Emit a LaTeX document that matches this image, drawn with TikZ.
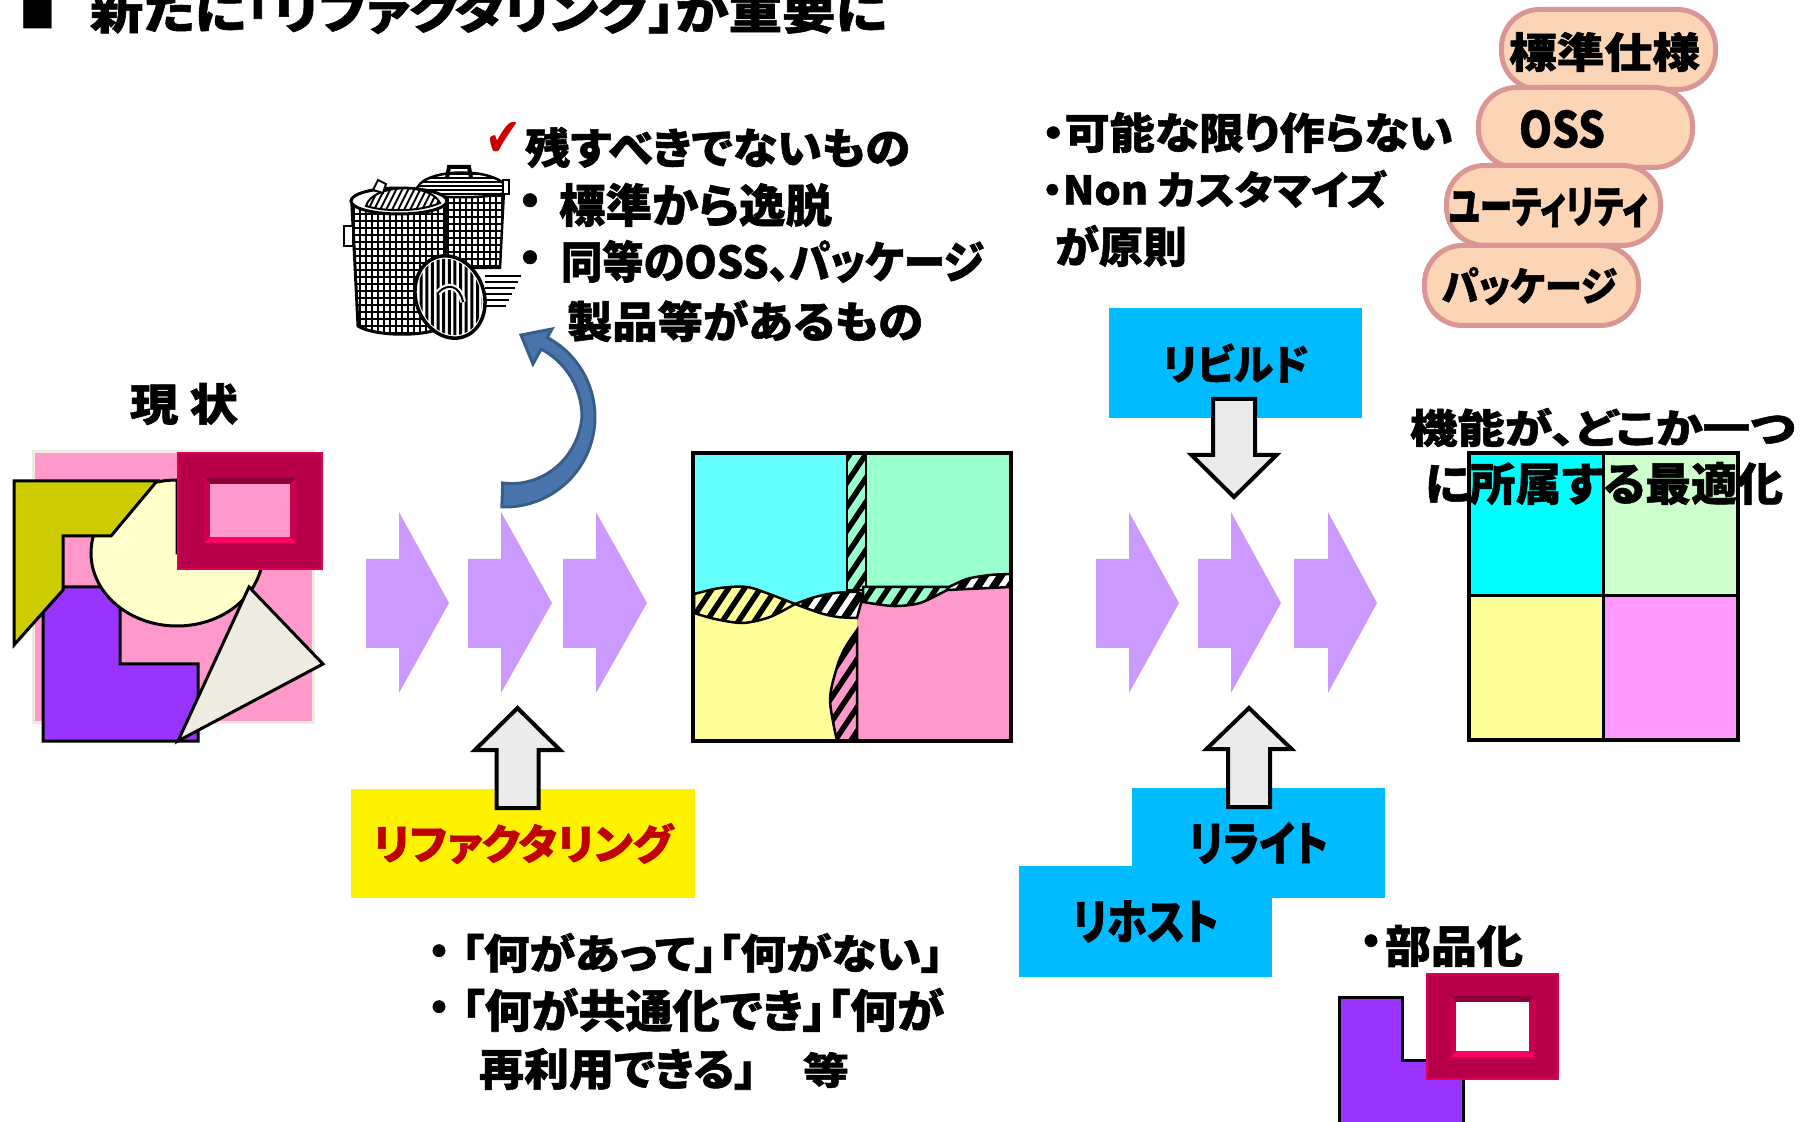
\documentclass[tikz,border=0pt]{standalone}
\usepackage{fontspec}
\usepackage{graphicx}
\newfontfamily\jp{Noto Sans CJK JP}[RawFeature=+palt, BoldFeatures={FakeBold=1.2}]
\newfontfamily\sym{DejaVu Sans}
\newdimen\pxu \pxu=0.1mm

\definecolor{pinkbg}{HTML}{FF99CC}
\definecolor{beige}{HTML}{EEECE1}
\definecolor{olive}{HTML}{CCCC00}
\definecolor{ltyellow}{HTML}{FFFFCC}
\definecolor{purp}{HTML}{9933FF}
\definecolor{frameRed}{HTML}{B8004A}
\definecolor{frameDark}{HTML}{8C0038}
\definecolor{frameLight}{HTML}{FF0066}
\definecolor{frameSide}{HTML}{C8004F}
\definecolor{arrowpurple}{HTML}{CC99FF}
\definecolor{cyanM}{HTML}{66FFFF}
\definecolor{mintM}{HTML}{99FFCC}
\definecolor{yellowM}{HTML}{FFFF99}
\definecolor{pinkM}{HTML}{FF99CC}
\definecolor{cyanF}{HTML}{00FFFF}
\definecolor{mintF}{HTML}{CCFFCC}
\definecolor{yellowF}{HTML}{FFFF99}
\definecolor{pinkF}{HTML}{FF99FF}
\definecolor{skyblue}{HTML}{00BBFF}
\definecolor{peach}{HTML}{FBD5B5}
\definecolor{rose}{HTML}{D99694}
\definecolor{refred}{HTML}{C00000}
\definecolor{checkred}{HTML}{CC0000}
\definecolor{curveblue}{HTML}{4A74AC}
\definecolor{curvedark}{HTML}{385D8A}
\definecolor{arrowgray}{HTML}{EBEBEB}

% text squeezed into a given ink box (width, total height in px)
\newcommand\fitt[3]{\resizebox*{#1\pxu}{#2\pxu}{\jp\bfseries #3}}
% text node filling the box x1,y1 -- x2,y2
\newcommand\tbox[7][black]{%
  \pgfmathsetmacro\tbw{#5-#3}%
  \pgfmathsetmacro\tbh{#6-#4}%
  \node[inner sep=0pt,text=#1] (#2) at ({(#3+#5)/2},{(#4+#6)/2}) {\fitt{\tbw}{\tbh}{#7}};}
% bullet dot (zero width, so it never crowds its line)
\newcommand\dotb[4]{\node[inner sep=0pt] (#1) at (#2,#3) {\makebox[0pt]{\jp\bfseries\fontsize{#4\pxu}{#4\pxu}\selectfont ・}};}
% purple chevron arrow: body left, body right, tip
\newcommand\parrow[3]{\fill[arrowpurple] (#1,559) -- (#2,559) -- (#2,512) -- (#3,603) -- (#2,693) -- (#2,648) -- (#1,648) -- cycle;}
% grey block arrow: centre x, tip y, head base y, tail y
\newcommand\blockarrow[4]{\draw[blockarrow] (#1,#2) -- ({#1+42.5},#3) -- ({#1+21},#3) -- ({#1+21},#4) -- ({#1-21},#4) -- ({#1-21},#3) -- ({#1-42.5},#3) -- cycle;}
% bevelled frame: outer box, inner box, inner colour
\newcommand\bevelframe[9]{%
  \fill[frameRed] (#1,#2) rectangle (#3,#4);
  \draw[frameLight!50!frameRed, lw=2] (#1,#2) rectangle (#3,#4);
  \fill[frameDark] ({#5-6},{#6-6}) -- ({#7+6},{#6-6}) -- (#7,#6) -- (#5,#6) -- cycle;
  \fill[frameLight] ({#5-6},{#8+6}) -- ({#7+6},{#8+6}) -- (#7,#8) -- (#5,#8) -- cycle;
  \fill[frameSide] ({#5-6},{#6-6}) -- (#5,#6) -- (#5,#8) -- ({#5-6},{#8+6}) -- cycle;
  \fill[frameSide] ({#7+6},{#6-6}) -- (#7,#6) -- (#7,#8) -- ({#7+6},{#8+6}) -- cycle;
  \fill[#9] (#5,#6) rectangle (#7,#8);}
% diagonal stripes for the clipped region
\newcommand\hatch[1]{\foreach \i in {470,486,...,1030} \draw[line width=5.5\pxu,#1] (\i,760) -- ++(210,-315);}

\tikzset{
  lw/.style={line width=#1\pxu},
  bubble/.style={draw=rose, fill=peach, line width=5\pxu, rounded corners=38\pxu,
    inner sep=0pt, minimum width=214\pxu, minimum height=80\pxu},
  labelbox/.style={fill=#1, inner sep=0pt},
  blockarrow/.style={fill=arrowgray, draw=black, line width=4\pxu},
}

\begin{document}
\begin{tikzpicture}[x=0.1mm,y=-0.1mm]
\path[use as bounding box] (0,0) rectangle (1807,1122);
\clip (0,0) rectangle (1807,1122);
\fill[white] (0,0) rectangle (1807,1122);

% ---------- heading ----------
\tbox{sq}{20}{-6}{55}{28}{■}
\tbox{title}{90}{-12}{887}{34}{新たに「リファクタリング」が重要に}

% ---------- current state ----------
\tbox{genjo}{130}{383}{238}{425}{現 状}
\fill[pinkbg, draw=beige, lw=3] (33,452) rectangle (313,722);
\filldraw[fill=purp, lw=3] (43,741) -- (43,610) -- (63,587) -- (120,587) -- (120,664) -- (198,664) -- (198,741) -- cycle;
\filldraw[fill=ltyellow, lw=3] (177,553) -- (177,480) arc[start angle=270, end angle=0, x radius=86, y radius=73] -- cycle;
\filldraw[fill=olive, lw=3] (14,481) -- (157,481) -- (111,536) -- (63,536) -- (63,590) -- (14,645) -- cycle;
\bevelframe{178}{453}{322}{569}{210}{484}{290}{537}{pinkbg}
\filldraw[fill=beige, lw=3] (249,587) -- (323,664) -- (178,741) -- cycle;

% ---------- flow arrows ----------
\parrow{366}{399}{449}
\parrow{468}{501}{552}
\parrow{563}{596}{647}
\parrow{1096}{1129}{1179}
\parrow{1198}{1231}{1281}
\parrow{1294}{1328}{1377}

% ---------- discarded items ----------
% back can
\filldraw[fill=white, lw=2.5] (422,190) -- (426,268) -- (500,268) -- (504,190) -- cycle;
\begin{scope}
  \clip (422,190) -- (426,268) -- (500,268) -- (504,190) -- cycle;
  \foreach \i in {424,430,...,504} \draw[lw=1.8] (\i,188) -- (\i,270);
  \foreach \j in {196,203,...,268} \draw[lw=2.8] (420,\j) -- (506,\j);
\end{scope}
\filldraw[fill=white, lw=2.5] (416,192) .. controls (418,166) and (506,166) .. (508,192) .. controls (490,199) and (434,199) .. (416,192) -- cycle;
\begin{scope}
  \clip (416,192) .. controls (418,166) and (506,166) .. (508,192) .. controls (490,199) and (434,199) .. (416,192) -- cycle;
  \foreach \j in {174,178,...,198} \draw[lw=2] (410,\j) -- (510,\j);
\end{scope}
\draw[lw=4] (447,178) -- (449,167) -- (469,167) -- (471,178);
\filldraw[fill=white, lw=2] (503,180) rectangle (509,194);
% front can
\filldraw[fill=white, lw=3] (352,206) -- (358,326) .. controls (375,337) and (430,337) .. (444,326) -- (446,206) -- cycle;
\begin{scope}
  \clip (352,206) -- (358,326) .. controls (375,337) and (430,337) .. (444,326) -- (446,206) -- cycle;
  \foreach \i in {354,360,...,446} \draw[lw=1.8] (\i,200) -- (\i,340);
  \foreach \j in {214,221,...,334} \draw[lw=2.8] (350,\j) -- (450,\j);
\end{scope}
\filldraw[fill=white, lw=2.5] (344,226) rectangle (353,246);
\filldraw[fill=white, lw=3] (399,201) ellipse [x radius=48, y radius=13];
\filldraw[fill=white, lw=2] (366,206) .. controls (372,184) and (430,182) .. (440,203) .. controls (420,212) and (385,212) .. (366,206) -- cycle;
\begin{scope}
  \clip (366,206) .. controls (372,184) and (430,182) .. (440,203) .. controls (420,212) and (385,212) .. (366,206) -- cycle;
  \foreach \i in {360,366,...,446} \draw[lw=2] (\i,214) -- ++(14,-28);
\end{scope}
\filldraw[fill=white, lw=2] (373,190) -- (378,180) -- (386,184) -- (383,193) -- cycle;
% leaning lid
\begin{scope}[rotate around={20:(450,297)}]
  \filldraw[fill=white, lw=3.5] (450,297) ellipse [x radius=34, y radius=42];
  \clip (450,297) ellipse [x radius=31, y radius=39];
  \foreach \i in {400,406,...,500} \draw[lw=3] (\i,350) -- ++(40,-110);
\end{scope}
\draw[white, lw=6] (438,293) .. controls (448,282) and (460,286) .. (463,302);
\draw[lw=2] (438,293) .. controls (448,282) and (460,286) .. (463,302);
\foreach \j in {276,282,...,306} \draw[lw=2.5] (485,\j) -- ({521-(\j-276)*0.5},\j);

% curved arrow towards the bin
\filldraw[fill=curveblue, draw=curvedark, lw=3]
  plot[domain=-92:62, samples=50] ({505+90*cos(\x)},{417-90*sin(\x)})
  -- (552,329) -- (521,335) -- (533,364)
  -- plot[domain=62:0, samples=20] ({505+77*cos(\x)},{417-77*sin(\x)})
  -- plot[domain=0:-92, samples=30] ({505+(77+11*\x/92)*cos(\x)},{417-(77+11*\x/92)*sin(\x)})
  -- cycle;

\tbox[checkred]{chk}{485}{123}{521}{157}{\sym ✔}
\tbox{n1}{525}{127}{910}{168}{残すべきでないもの}
\dotb{d3}{530}{206}{48}
\tbox{n2}{559}{183}{832}{227}{標準から逸脱}
\dotb{d4}{530}{263}{48}
\tbox{n3}{561}{240}{984}{283}{同等のOSS、パッケージ}
\tbox{n4}{567}{300}{923}{342}{製品等があるもの}

% ---------- tangled system ----------
\def\lensA{plot[smooth] coordinates {(694,594) (720,588) (747,587) (772,595) (795,604)} -- plot[smooth] coordinates {(795,604) (770,617) (743,623) (715,619) (694,613)} -- cycle}
\def\lensB{plot[smooth] coordinates {(795,604) (815,597) (835,593) (857,592) (863,596)} -- (857,618) -- plot[smooth] coordinates {(857,618) (838,617) (820,613) (795,604)} -- cycle}
\def\bandC{(863,587) -- (947,587) -- (947,590) -- plot[smooth] coordinates {(947,590) (920,603) (893,606) (863,602)} -- cycle}
\def\lensD{plot[smooth] coordinates {(947,588) (967,579) (990,575) (1011,574)} -- (1011,587) -- (947,590) -- cycle}
\def\strip{(847,453) rectangle (866,590)}
\def\sliver{plot[smooth] coordinates {(857,630) (845,648) (837,667) (830,700) (837,741)} -- (857,741) -- cycle}

\fill[cyanM] (693,453) rectangle (857,625);
\fill[mintM] (857,453) rectangle (1011,610);
\fill[yellowM] plot[smooth] coordinates {(694,613) (715,619) (743,623) (770,617) (795,604) (820,613) (857,618)} -- (857,741) -- (693,741) -- cycle;
\fill[pinkM] (857,741) -- (857,618) -- (863,602) -- plot[smooth] coordinates {(863,602) (893,606) (920,603) (947,590)} -- (1011,587) -- (1011,741) -- cycle;

\fill[mintM] \strip;
\begin{scope}\clip \strip; \hatch{black}\end{scope}
\draw[lw=2.5] \strip;

\fill[yellowM] \lensA;
\begin{scope}\clip \lensA; \hatch{black}\end{scope}
\draw[lw=2.5] \lensA;

\fill[black] \lensB;
\begin{scope}\clip \lensB; \hatch{white}\end{scope}
\draw[lw=2.5] \lensB;

\fill[mintM] \bandC;
\begin{scope}\clip \bandC; \hatch{black}\end{scope}
\draw[lw=2.5] \bandC;

\fill[black] \lensD;
\begin{scope}\clip \lensD; \hatch{white}\end{scope}
\draw[lw=2.5] \lensD;

\fill[pinkM] \sliver;
\begin{scope}\clip \sliver; \hatch{black}\end{scope}
\draw[lw=2.5] \sliver;

\draw[lw=4] (693,453) rectangle (1011,741);

% ---------- refactoring ----------
\node[labelbox=yellow, minimum width=344\pxu, minimum height=109\pxu] (refac) at (523,843.5)
  {\textcolor{refred}{\fitt{300}{41}{リファクタリング}}};
\blockarrow{517.5}{708}{750}{808}

\dotb{d5}{439}{956}{44}
\tbox{m1}{461}{933}{944}{973}{「何があって」「何がない」}
\dotb{d6}{439}{1012}{44}
\tbox{m2}{461}{988}{944}{1032}{「何が共通化でき」「何が}
\tbox{m3}{479}{1048}{757}{1090}{再利用できる」}
\tbox{m4}{803}{1052}{849}{1088}{等}

% ---------- rebuild / rewrite / rehost ----------
\node[labelbox=skyblue, minimum width=253\pxu, minimum height=110\pxu] (rebuild) at (1235.5,363) {\fitt{146}{39}{リビルド}};
\blockarrow{1234}{497}{455}{399}

\node[labelbox=skyblue, minimum width=253\pxu, minimum height=110\pxu] (rewrite) at (1258.5,843) {\fitt{139}{42}{リライト}};
\node[labelbox=skyblue, minimum width=253\pxu, minimum height=111\pxu] (rehost) at (1145.5,921.5) {\fitt{146}{42}{リホスト}};
\blockarrow{1249}{708}{749}{807}

% ---------- principles ----------
\tbox{l1}{1042}{112}{1453}{153}{・可能な限り作らない}
\tbox{l2}{1042}{170}{1387}{208}{・Non カスタマイズ}
\tbox{l3}{1055}{225}{1187}{267}{が原則}

\node[bubble] (b1) at (1608.5,49.5) {};
\tbox{t1}{1509}{32}{1700}{72}{標準仕様}
\node[bubble] (b2) at (1585.5,127.5) {};
\tbox{t2}{1519}{110}{1605}{148}{OSS}
\node[bubble] (b3) at (1553.5,205.5) {};
\tbox{t3}{1449}{188}{1648}{227}{ユーティリティ}
\node[bubble] (b4) at (1531.5,285.5) {};
\tbox{t4}{1442}{267}{1617}{305}{パッケージ}

% ---------- target state ----------
\filldraw[fill=cyanF, lw=3] (1469,453) rectangle (1603,596);
\filldraw[fill=mintF, lw=3] (1603,453) rectangle (1738,596);
\filldraw[fill=yellowF, lw=3] (1469,596) rectangle (1603,740);
\filldraw[fill=pinkF, lw=3] (1603,596) rectangle (1738,740);
\draw[lw=3.5] (1469,453) rectangle (1738,740);
\tbox{f1}{1410}{408}{1795}{447}{機能が、どこか一つ}
\tbox{f2}{1425}{462}{1783}{505}{に所属する最適化}

% ---------- componentisation ----------
\dotb{d7}{1371}{946}{44}
\tbox{bh}{1385}{925}{1523}{967}{部品化}
\filldraw[fill=purp, lw=3] (1339,1130) -- (1339,997) -- (1402,997) -- (1402,1060) -- (1463,1060) -- (1463,1130) -- cycle;
\bevelframe{1427}{974}{1558}{1079}{1456}{1002}{1529}{1051}{white}
\end{tikzpicture}
\end{document}
